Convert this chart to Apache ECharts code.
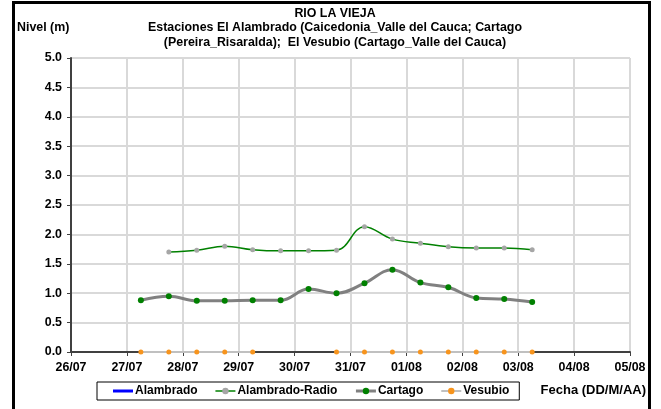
<!DOCTYPE html>
<html>
<head>
<meta charset="utf-8">
<script src="https://cdn.jsdelivr.net/npm/echarts@6/dist/echarts.min.js"></script>
<style>
  html, body { margin: 0; padding: 0; background: #fff; }
  #chart { width: 661px; height: 409px; }
</style>
</head>
<body>
<div id="chart"></div>
<script>
// Level readings (m), twice a day (06:00 and 18:00)
const cartagoFechas = ['27/07 06:00', '27/07 18:00', '28/07 06:00', '28/07 18:00', '29/07 06:00',
  '29/07 18:00', '30/07 06:00', '30/07 18:00', '31/07 06:00', '31/07 18:00', '01/08 06:00',
  '01/08 18:00', '02/08 06:00', '02/08 18:00', '03/08 06:00'];
const cartagoNivel = [0.88, 0.95, 0.87, 0.87, 0.88, 0.88, 1.07, 1.00, 1.17, 1.40, 1.18, 1.10, 0.92, 0.90, 0.85];

const radioFechas = ['27/07 18:00', '28/07 06:00', '28/07 18:00', '29/07 06:00', '29/07 18:00',
  '30/07 06:00', '30/07 18:00', '31/07 06:00', '31/07 18:00', '01/08 06:00', '01/08 18:00',
  '02/08 06:00', '02/08 18:00', '03/08 06:00'];
const radioNivel = [1.70, 1.73, 1.80, 1.74, 1.72, 1.72, 1.73, 2.13, 1.92, 1.85, 1.79, 1.77, 1.77, 1.74];

const vesubioFechas = cartagoFechas;
const vesubioNivel = [0, 0, 0, 0, 0, null, null, 0, 0, 0, 0, 0, 0, 0, 0];

const alambradoFechas = [];
const alambradoNivel = [];

const ejeInicio = '26/07 00:00';
const ejeFin = '05/08 00:00';
const nivelMax = 5;
const nivelPaso = 0.5;

const ANIO = 2011;
const DIA = 86400000;

function aMs(s) {
  const [d, t] = s.split(' ');
  const [dd, mm] = d.split('/').map(Number);
  const [hh, mi] = t.split(':').map(Number);
  return Date.UTC(ANIO, mm - 1, dd, hh, mi);
}
function pares(fechas, valores) {
  return fechas.map((f, i) => [aMs(f), valores[i]]);
}
function dosDigitos(n) { return (n < 10 ? '0' : '') + n; }

const fuente = 'Arial, "Liberation Sans", sans-serif';

const chart = echarts.init(document.getElementById('chart'), null, { renderer: 'canvas' });

chart.setOption({
  animation: false,
  backgroundColor: '#ffffff',
  title: {
    text: 'RIO LA VIEJA\nEstaciones El Alambrado (Caicedonia_Valle del Cauca; Cartago\n(Pereira_Risaralda);  El Vesubio (Cartago_Valle del Cauca)',
    left: 330,
    top: 1,
    textAlign: 'center',
    textStyle: { fontFamily: fuente, fontSize: 12.4, fontWeight: 'bold', color: '#000', lineHeight: 14.5 }
  },
  grid: {
    left: 71, right: 31, top: 58, bottom: 57,
    show: true, borderColor: '#8c8c8c', borderWidth: 1, backgroundColor: '#fff'
  },
  legend: {
    left: 97, top: 382,
    orient: 'horizontal',
    borderColor: '#000', borderWidth: 1,
    padding: [3, 10, 3, 16],
    itemGap: 17,
    itemWidth: 20, itemHeight: 8,
    lineStyle: { width: 'inherit' },
    textStyle: { fontFamily: fuente, fontSize: 12, fontWeight: 'bold', color: '#000', padding: [0, 0, 0, -3] },
    data: [
      { name: 'Alambrado', icon: 'path://M0,0L20,0L20,3L0,3Z' },
      'Alambrado-Radio', 'Cartago', 'Vesubio'
    ]
  },
  graphic: [
    {
      type: 'rect', silent: true, z: 100,
      shape: { x: 13.5, y: 2.5, width: 636, height: 430 },
      style: { fill: 'none', stroke: '#000', lineWidth: 3 }
    },
    {
      type: 'text', left: 17, top: 22, silent: true,
      style: { text: 'Nivel (m)', font: 'bold 12.4px ' + fuente, fill: '#000' }
    },
    {
      type: 'text', right: 15, top: 384, silent: true,
      style: { text: 'Fecha (DD/M/AA)', font: 'bold 13px ' + fuente, fill: '#000' }
    }
  ],
  xAxis: {
    type: 'value',
    min: aMs(ejeInicio),
    max: aMs(ejeFin),
    interval: DIA,
    axisLine: { lineStyle: { color: '#404040', width: 2 } },
    axisTick: { show: true, length: 4, lineStyle: { color: '#404040', width: 1 } },
    axisLabel: {
      margin: 10,
      fontFamily: fuente, fontSize: 12.4, fontWeight: 'bold', color: '#000',
      formatter: v => { const d = new Date(v); return dosDigitos(d.getUTCDate()) + '/' + dosDigitos(d.getUTCMonth() + 1); }
    },
    splitLine: { show: true, lineStyle: { color: '#d9d9d9', width: 2 } }
  },
  yAxis: {
    type: 'value',
    min: 0, max: nivelMax, interval: nivelPaso,
    axisLine: { show: true, lineStyle: { color: '#404040', width: 2 } },
    axisTick: { show: true, length: 4, lineStyle: { color: '#404040', width: 1 } },
    axisLabel: {
      margin: 9,
      fontFamily: fuente, fontSize: 12.4, fontWeight: 'bold', color: '#000',
      formatter: v => v.toFixed(1)
    },
    splitLine: { show: true, lineStyle: { color: '#d9d9d9', width: 2 } }
  },
  series: [
    {
      name: 'Alambrado', type: 'line',
      data: pares(alambradoFechas, alambradoNivel),
      symbol: 'none', color: '#0000ff',
      lineStyle: { color: '#0000ff', width: 3 }
    },
    {
      name: 'Alambrado-Radio', type: 'line',
      data: pares(radioFechas, radioNivel),
      smooth: 0.4,
      symbol: 'circle', symbolSize: 5,
      itemStyle: { color: '#a6a6a6' },
      lineStyle: { color: '#008000', width: 1.5 },
      z: 3
    },
    {
      name: 'Cartago', type: 'line',
      data: pares(cartagoFechas, cartagoNivel),
      smooth: 0.4,
      symbol: 'circle', symbolSize: 6,
      itemStyle: { color: '#008000' },
      lineStyle: { color: '#808080', width: 3 },
      z: 3
    },
    {
      name: 'Vesubio', type: 'line',
      data: pares(vesubioFechas, vesubioNivel),
      connectNulls: false,
      clip: false,
      symbol: 'circle', symbolSize: 5,
      itemStyle: { color: '#f7941d' },
      lineStyle: { color: '#c0c0c0', width: 2 },
      z: 4
    }
  ]
});
</script>
</body>
</html>
